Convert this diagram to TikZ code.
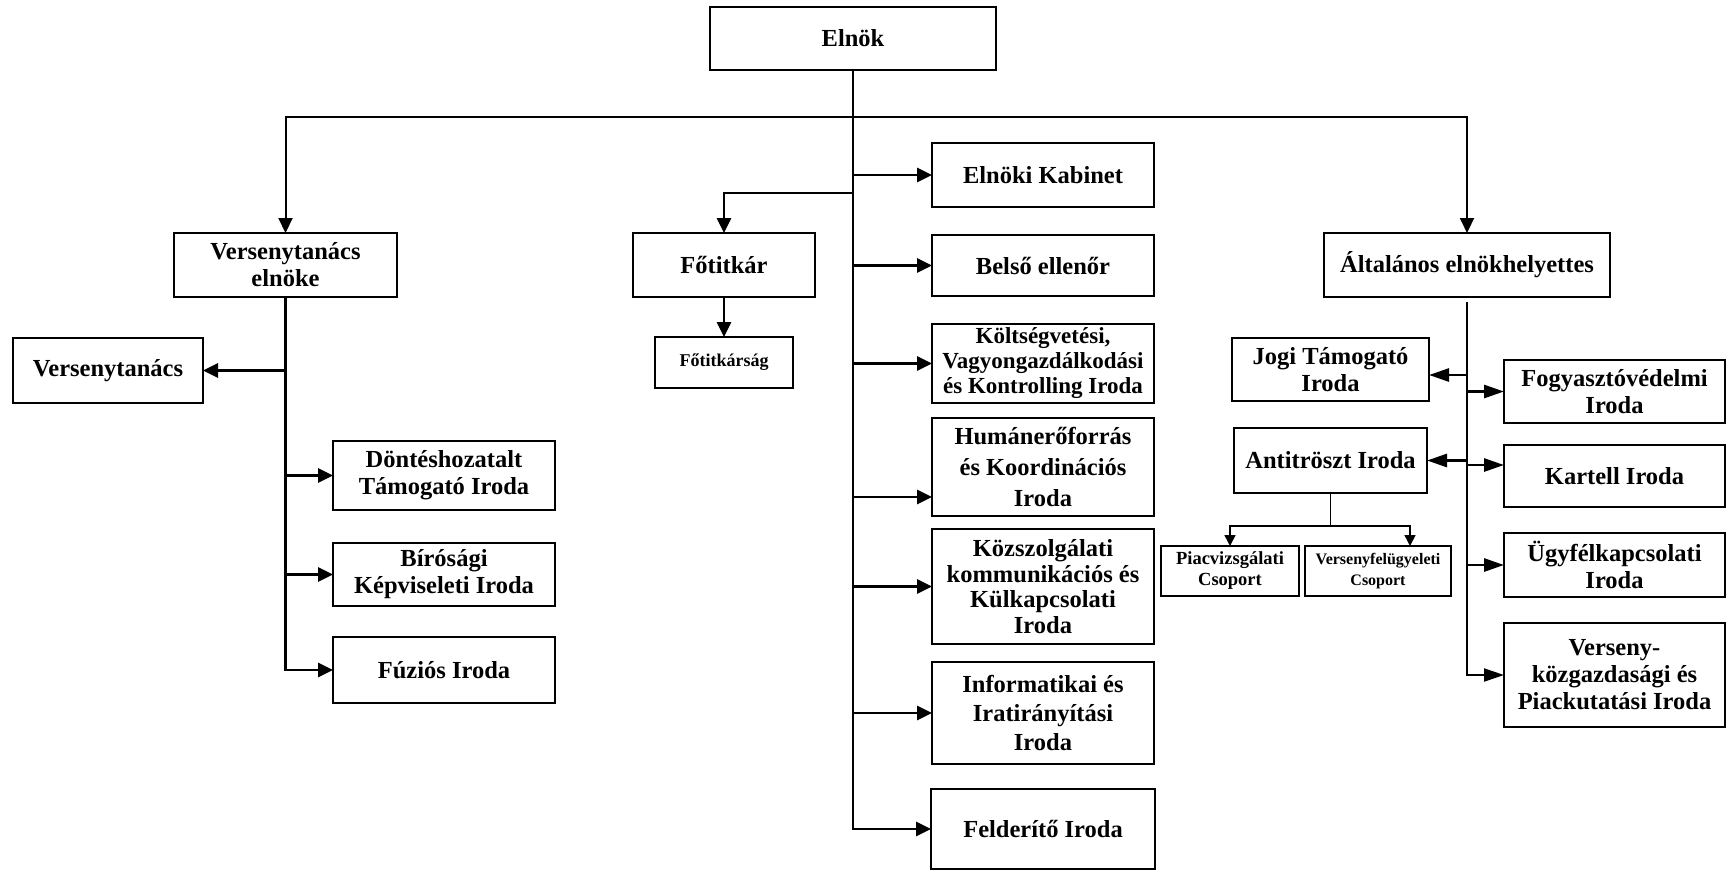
\documentclass[tikz,border=0pt]{standalone}
\usepackage{fontspec}
\setmainfont{Liberation Serif}
\usetikzlibrary{positioning,arrows.meta}

\begin{document}
\begin{tikzpicture}[x=1pt, y=-1pt, >={Triangle[length=15pt,width=14pt]}, font=\fontsize{24.5}{27}\selectfont\bfseries]
\tikzstyle{box}=[
    draw, line width=2.3pt,
    align=center,
    inner sep=2pt, outer sep=0pt,
    minimum width=222pt,
    minimum height=64pt
]
\tikzstyle{link}=[line width=2.8pt]
\tikzstyle{thin}=[line width=2pt]
\tikzstyle{hair}=[line width=1.5pt, >={Triangle[length=11pt,width=11pt]}]
\tikzstyle{long}=[>={Triangle[length=20pt,width=13pt]}]

\useasboundingbox (0,0) rectangle (1726,871);

% top level
\node[box, minimum width=286pt, minimum height=63pt] (elnok) at (853,38.5) {Elnök};
\node[box, minimum width=223pt] (vtelnok) at (285.5,265) {Versenytanács\\elnöke};
\node[box, minimum width=182pt] (fotitkar) at (724,265) {Főtitkár};
\node[box, minimum width=286pt] (altalanos) at (1467,265) {Általános elnökhelyettes};
\node[box, minimum width=138pt, minimum height=51pt, below=40pt of fotitkar,
      font=\fontsize{18}{21}\selectfont\bfseries] (fotitkarsag) {Főtitkárság};

% left branch
\node[box, minimum width=190pt, minimum height=65pt] (vt) at (108,370.5) {Versenytanács};
\node[box, minimum height=69pt] (dontes) at (444,475.5) {Döntéshozatalt\\Támogató Iroda};
\node[box, minimum height=63pt, below=33pt of dontes] (birosagi) {Bírósági\\Képviseleti Iroda};
\node[box, minimum height=66pt, below=31pt of birosagi] (fuzios) {Fúziós Iroda};

% middle column
\node[box] (kabinet) at (1043,175) {Elnöki Kabinet};
\node[box, minimum height=61pt, below=28pt of kabinet] (belso) {Belső ellenőr};
\node[box, minimum height=79pt, below=28pt of belso,
      font=\fontsize{23}{25}\selectfont\bfseries] (koltseg) {Költségvetési,\\Vagyongazdálkodási\\és Kontrolling Iroda};
\node[box, minimum height=98pt, below=15pt of koltseg,
      font=\fontsize{24.5}{31}\selectfont\bfseries] (human) {Humánerőforrás\\és Koordinációs\\Iroda};
\node[box, minimum height=115pt, below=13pt of human,
      font=\fontsize{24.5}{25.5}\selectfont\bfseries] (kozszolg) {Közszolgálati\\kommunikációs és\\Külkapcsolati\\Iroda};
\node[box, minimum height=102pt, below=18pt of kozszolg,
      font=\fontsize{24.5}{29}\selectfont\bfseries] (informatikai) {Informatikai és\\Iratirányítási\\Iroda};
\node[box, minimum width=224pt, minimum height=80pt, below=25pt of informatikai] (felderito) {Felderítő Iroda};

% right branch
\node[box, minimum width=197pt, minimum height=63pt] (jogi) at (1330.5,369.5) {Jogi Támogató\\Iroda};
\node[box, minimum width=193pt, minimum height=65pt, below=27pt of jogi] (antitroszt) {Antitröszt Iroda};
\node[box, minimum width=138pt, minimum height=50pt, line width=2pt,
      font=\fontsize{18.5}{21}\selectfont\bfseries] (piac) at (1230,571) {Piacvizsgálati\\Csoport};
\node[box, minimum width=146pt, minimum height=50pt, line width=2pt, right=6pt of piac,
      font=\fontsize{16}{21}\selectfont\bfseries] (versfel) {Versenyfelügyeleti\\Csoport};
\node[box, minimum width=221pt, minimum height=63pt] (fogyaszto) at (1614.5,391.5) {Fogyasztóvédelmi\\Iroda};
\node[box, minimum width=221pt, minimum height=62pt, below=22pt of fogyaszto] (kartell) {Kartell Iroda};
\node[box, minimum width=221pt, minimum height=64pt, below=26pt of kartell] (ugyfel) {Ügyfélkapcsolati\\Iroda};
\node[box, minimum width=221pt, minimum height=104pt, below=26pt of ugyfel] (versenykozg) {Verseny-\\közgazdasági és\\Piackutatási Iroda};

% connectors from the president
\coordinate (bus) at (853,117);
\coordinate (ft) at (853,193);
\draw[link,->] (elnok.south) |- (felderito.west);
\draw[thin,->] (bus) -| (vtelnok.north);
\draw[thin,->] (bus) -| (altalanos.north);
\draw[link,->] (ft) -| (fotitkar.north);
\draw[link,->] (fotitkar) -- (fotitkarsag);
\foreach \n in {kabinet,belso,koltseg,kozszolg,informatikai}
    \draw[link,->] (elnok.south |- \n.west) -- (\n.west);
\coordinate (hu) at ([yshift=-30pt]human.west);
\draw[link,->] (elnok.south |- hu) -- (hu);

% left branch
\draw[link,->] (vtelnok.south) |- (fuzios.west);
\draw[link,->] (vtelnok.south |- vt.east) -- (vt.east);
\foreach \n in {dontes,birosagi}
    \draw[link,->] (vtelnok.south |- \n.west) -- (\n.west);

% right branch
\coordinate (rtop) at ([yshift=-5pt]altalanos.south);
\draw[thin,long,->] (rtop) |- (versenykozg.west);
\coordinate (jg) at ([yshift=-5.5pt]jogi.east);
\draw[link,long,->] (rtop |- jg) -- (jg);
\draw[link,long,->] (rtop |- antitroszt.east) -- (antitroszt.east);
\foreach \n in {fogyaszto,ugyfel}
    \draw[link,long,->] (rtop |- \n.west) -- (\n.west);
\coordinate (kt) at ([yshift=11pt]kartell.west);
\draw[link,long,->] (rtop |- kt) -- (kt);

% groups under Antitröszt Iroda
\coordinate (asplit) at ([yshift=-33pt]antitroszt.south);
\coordinate (vf) at ([xshift=32pt]versfel.north);
\draw[hair] (antitroszt.south) -- (asplit);
\draw[hair,->] (asplit) -| (piac.north);
\draw[hair,->] (asplit) -| (vf);
\end{tikzpicture}
\end{document}
